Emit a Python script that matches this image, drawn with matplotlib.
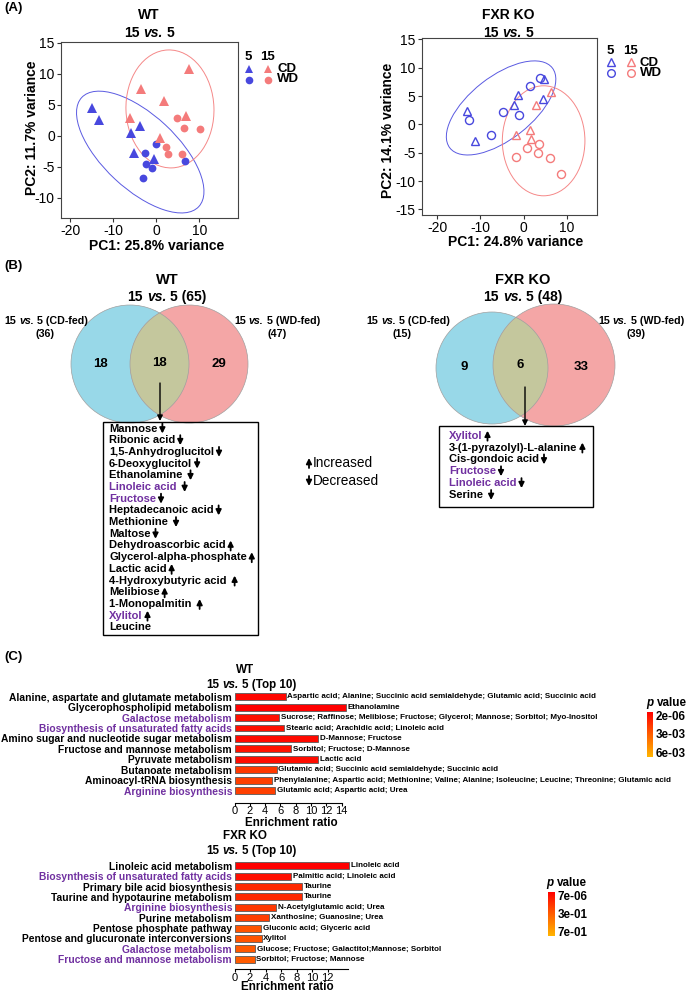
import numpy as np
import matplotlib
matplotlib.use('Agg')
import matplotlib.pyplot as plt
import matplotlib.transforms as mtransforms
from matplotlib.patches import Circle, Ellipse, Rectangle
from matplotlib.colors import LinearSegmentedColormap, Normalize
from matplotlib.cm import ScalarMappable
from matplotlib.text import OffsetFrom

plt.rcParams['font.family'] = ['Liberation Sans', 'DejaVu Sans']
plt.rcParams['axes.unicode_minus'] = False

# ---------------- (A) PCA scores ----------------
wt_5cd_x = [-14.8, -13.2, -3.7, -5.9, -5.1, -0.4]
wt_5cd_y = [4.4, 2.5, 1.5, 0.4, -2.8, -3.7]
wt_5wd_x = [0.0, -2.5, -2.3, -0.9, -3.1, 6.6]
wt_5wd_y = [-1.3, -2.8, -4.6, -5.2, -6.9, -4.1]
wt_15cd_x = [-3.6, 1.9, 7.7, 7.0, -6.0, 0.9]
wt_15cd_y = [7.5, 5.6, 10.8, 3.2, 2.8, -0.4]
wt_15wd_x = [4.8, 6.5, 10.1, 2.3, 2.8, 6.0]
wt_15wd_y = [2.9, 1.2, 1.0, -1.8, -3.0, -3.0]

ko_5cd_x = [-13.0, -11.3, -1.3, -2.2, 4.8, 4.4]
ko_5cd_y = [2.35, -2.9, 5.2, 3.4, 8.0, 4.4]
ko_5wd_x = [-12.7, -7.6, -4.7, -1.1, 1.6, 3.8]
ko_5wd_y = [0.8, -1.9, 2.2, 1.7, 6.8, 8.2]
ko_15cd_x = [2.9, 6.4, -1.8, 1.6, 1.7]
ko_15cd_y = [3.5, 5.8, -1.9, -1.0, -2.5]
ko_15wd_x = [-1.7, 0.7, 3.6, 3.3, 6.1, 8.8]
ko_15wd_y = [-5.8, -4.2, -3.5, -5.1, -5.9, -8.8]

# ellipse: centre (data), semi axes (px), angle (deg)
wt_ell = [(-3.7, -2.66, 80, 37, -43), (3.2, 4.3, 59, 44, 92)]
ko_ell = [(-5.2, 2.9, 65, 31.4, 38), (4.66, -2.9, 55, 41.3, 90)]

wt_pc = ['PC1: 25.8% variance', 'PC2: 11.7% variance']
ko_pc = ['PC1: 24.8% variance', 'PC2: 14.1% variance']

# ---------------- (B) Venn ----------------
wt_venn = [18, 18, 29]
wt_sets = [65, 36, 47]
ko_venn = [9, 6, 33]
ko_sets = [48, 15, 39]

wt_common = ['Mannose', 'Ribonic acid', '1,5-Anhydroglucitol', '6-Deoxyglucitol', 'Ethanolamine ',
             'Linoleic acid ', 'Fructose', 'Heptadecanoic acid', 'Methionine ', 'Maltose',
             'Dehydroascorbic acid', 'Glycerol-alpha-phosphate', 'Lactic acid', '4-Hydroxybutyric acid ',
             'Melibiose', '1-Monopalmitin ', 'Xylitol', 'Leucine']
wt_dir = ['down'] * 10 + ['up'] * 7 + ['']
ko_common = ['Xylitol', '3-(1-pyrazolyl)-L-alanine', 'Cis-gondoic acid', 'Fructose', 'Linoleic acid', 'Serine ']
ko_dir = ['up', 'up', 'down', 'down', 'down', 'down']
purple_mets = ['Linoleic acid', 'Fructose', 'Xylitol']

# ---------------- (C) enrichment ----------------
wt_path = ['Alanine, aspartate and glutamate metabolism', 'Glycerophospholipid metabolism',
           'Galactose metabolism', 'Biosynthesis of unsaturated fatty acids',
           'Amino sugar and nucleotide sugar metabolism', 'Fructose and mannose metabolism',
           'Pyruvate metabolism', 'Butanoate metabolism', 'Aminoacyl-tRNA biosynthesis',
           'Arginine biosynthesis']
wt_ratio = [6.7, 14.5, 5.8, 6.5, 10.9, 7.4, 10.9, 5.5, 4.9, 5.3]
wt_p = [2e-4, 2e-6, 5e-4, 5e-4, 3e-4, 6e-4, 4e-4, 1.8e-3, 2.0e-3, 2.0e-3]
wt_hits = ['Aspartic acid; Alanine; Succinic acid semialdehyde; Glutamic acid; Succinic acid',
           'Ethanolamine',
           'Sucrose; Raffinose; Melibiose; Fructose; Glycerol; Mannose; Sorbitol; Myo-Inositol',
           'Stearic acid; Arachidic acid; Linoleic acid',
           'D-Mannose; Fructose',
           'Sorbitol; Fructose; D-Mannose',
           'Lactic acid',
           'Glutamic acid; Succinic acid semialdehyde; Succinic acid',
           'Phenylalanine; Aspartic acid; Methionine; Valine; Alanine; Isoleucine; Leucine; Threonine; Glutamic acid',
           'Glutamic acid; Aspartic acid; Urea']
wt_purple = ['Galactose metabolism', 'Biosynthesis of unsaturated fatty acids', 'Arginine biosynthesis']
wt_prange = [2e-6, 6e-3]
wt_plabels = ['2e-06', '3e-03', '6e-03']

ko_path = ['Linoleic acid metabolism', 'Biosynthesis of unsaturated fatty acids',
           'Primary bile acid biosynthesis', 'Taurine and hypotaurine metabolism',
           'Arginine biosynthesis', 'Purine metabolism', 'Pentose phosphate pathway',
           'Pentose and glucuronate interconversions', 'Galactose metabolism',
           'Fructose and mannose metabolism']
ko_ratio = [14.8, 7.3, 8.7, 8.7, 5.4, 4.5, 3.4, 3.5, 2.7, 2.6]
ko_p = [7e-6, 0.06, 0.15, 0.15, 0.21, 0.23, 0.31, 0.31, 0.33, 0.34]
ko_hits = ['Linoleic acid', 'Palmitic acid; Linoleic acid', 'Taurine', 'Taurine',
           'N-Acetylglutamic acid; Urea', 'Xanthosine; Guanosine; Urea', 'Gluconic acid; Glyceric acid',
           'Xylitol', 'Glucose; Fructose; Galactitol;Mannose; Sorbitol', 'Sorbitol; Fructose; Mannose']
ko_purple = ['Biosynthesis of unsaturated fatty acids', 'Arginine biosynthesis',
             'Galactose metabolism', 'Fructose and mannose metabolism']
ko_prange = [7e-6, 7e-1]
ko_plabels = ['7e-06', '3e-01', '7e-01']

blue = '#4848DE'
red = '#F47B7B'
purple = '#7030A0'
pcmap = LinearSegmentedColormap.from_list('pv', ['#FF0000', '#FF5E00', '#FFB400'])

W, H = 690, 992
fig = plt.figure(figsize=(6.9, 9.92), dpi=100)
rend = fig.canvas.get_renderer()


def px_axes(x0, y0, x1, y1):
    return fig.add_axes([x0 / W, 1 - y1 / H, (x1 - x0) / W, (y1 - y0) / H])


ov = fig.add_axes([0, 0, 1, 1])
ov.set_xlim(0, W)
ov.set_ylim(H, 0)
ov.axis('off')


def put(x, y, s, size=8, weight='bold', **kw):
    kw.setdefault('ha', 'center')
    kw.setdefault('va', 'center')
    return ov.text(x, y, s, fontsize=size, fontweight=weight, **kw)


def rich(x, y, parts, size):
    # pieces of bold text, some italic, centred as one line
    arts, widths = [], []
    for s, it in parts:
        t = ov.text(0, y, s, fontsize=size, fontweight='bold', fontstyle='italic' if it else 'normal',
                    ha='left', va='center')
        arts.append(t)
        widths.append(t.get_window_extent(rend).width)
    sp = 0.278 * size * 100 / 72
    x0 = x - (sum(widths) + sp * (len(parts) - 1)) / 2
    for t, w in zip(arts, widths):
        t.set_x(x0)
        x0 += w + sp


def vs(x, y, size, tail=''):
    rich(x, y, [('15', False), ('vs.', True), ('5' + tail, False)], size)


arrow_style = dict(arrowstyle='-|>', color='black', lw=1.3, mutation_scale=8, shrinkA=0, shrinkB=0)


def small_arrow(anchor, d, dx=3.6):
    # thin arrow with filled head, after a text artist or at a point (px)
    h = 3.6 if d == 'up' else -3.6
    if isinstance(anchor, tuple):
        ov.annotate('', xy=(anchor[0], anchor[1] - h * 1.39), xytext=(anchor[0], anchor[1] + h * 1.39),
                    arrowprops=arrow_style)
    else:
        ref = OffsetFrom(anchor, (1, 0.5), unit='points')
        ov.annotate('', xy=(dx, h), xycoords=ref, xytext=(dx, -h), textcoords=ref,
                    arrowprops=arrow_style)


# panel letters
put(4, 8, '(A)', 9.5, ha='left')
put(4, 266, '(B)', 9.5, ha='left')
put(4, 657, '(C)', 9.5, ha='left')


def pca_panel(box, xlim, ylim, yticks, groups, ells, filled, pc, name, tx, lx, ly):
    ax = px_axes(*box)
    cols = [blue, blue, red, red]
    mks = ['^', 'o', '^', 'o']
    for (gx, gy), c, m in zip(groups, cols, mks):
        if filled:
            ax.plot(gx, gy, m, ls='none', color=c, ms=6.5 if m == '^' else 5.6, mew=0)
        else:
            ax.plot(gx, gy, m, ls='none', mfc='none', mec=c, ms=5.8, mew=1.0)
    for (cx, cy, a, b, ang), c in zip(ells, [blue, red]):
        tr = fig.dpi_scale_trans + mtransforms.ScaledTranslation(cx, cy, ax.transData)
        ax.add_patch(Ellipse((0, 0), 2 * a / 100, 2 * b / 100, angle=ang, transform=tr,
                             fill=False, ec=c, lw=0.7, alpha=0.9))
    ax.set_xlim(xlim)
    ax.set_ylim(ylim)
    ax.set_xticks([-20, -10, 0, 10])
    ax.set_yticks(yticks)
    ax.tick_params(direction='out', length=3, width=0.8, labelsize=10, pad=1.5, color='#333333')
    for s in ax.spines.values():
        s.set_linewidth(0.8)
        s.set_color('#444444')
    put(tx, 15, name, 10)
    vs(tx, 33, 10)
    put(lx[0], lx[1], pc[0], 10)
    put(ly[0], ly[1], pc[1], 10, rotation=90)
    return ax


pca_panel((61, 42, 238, 218), (-22.1, 19), (-13.3, 15.1), [15, 10, 5, 0, -5, -10],
          [(wt_5cd_x, wt_5cd_y), (wt_5wd_x, wt_5wd_y), (wt_15cd_x, wt_15cd_y), (wt_15wd_x, wt_15wd_y)],
          wt_ell, True, wt_pc, 'WT', 149, (157, 246), (32, 128))
pca_panel((421.7, 37.7, 597.3, 215), (-23.6, 17.1), (-16.0, 15.3), [15, 10, 5, 0, -5, -10, -15],
          [(ko_5cd_x, ko_5cd_y), (ko_5wd_x, ko_5wd_y), (ko_15cd_x, ko_15cd_y), (ko_15wd_x, ko_15wd_y)],
          ko_ell, False, ko_pc, 'FXR KO', 508, (516, 242), (388, 130))

# legends of (A)
for (x5, x15, y0, fill) in [(249, 267.5, 57, True), (611, 630.5, 51, False)]:
    put(x5 - 1, y0, '5', 9.5)
    put(x15, y0, '15', 9.5)
    for c, xx in [(blue, x5), (red, x15)]:
        if fill:
            ov.plot(xx, y0 + 12, '^', color=c, ms=5.5, mew=0)
            ov.plot(xx, y0 + 23, 'o', color=c, ms=5.5, mew=0)
        else:
            ov.plot(xx, y0 + 11, '^', mfc='none', mec=c, ms=5.5, mew=1)
            ov.plot(xx, y0 + 22, 'o', mfc='none', mec=c, ms=5.5, mew=1)
    put(x15 + 9.5, y0 + 11.5, 'CD', 9.5, ha='left')
    put(x15 + 9.5, y0 + 22.5, 'WD', 9.5, ha='left')


# ---------------- (B) ----------------
def venn(cb, rb, cr, rr, counts, sets, name, tx, lab_l, lab_r, arrow):
    c1 = Circle(cb, rb, fc='#98D8E8', ec='none')
    c2 = Circle(cr, rr, fc='#F4A6A6', ec='none')
    ov.add_patch(c1)
    ov.add_patch(c2)
    mid = Circle(cb, rb, fc='#C4C79D', ec='none')
    ov.add_patch(mid)
    mid.set_clip_path(c2)
    ov.add_patch(Circle(cb, rb, fc='none', ec='#A0A0A0', lw=0.5))
    ov.add_patch(Circle(cr, rr, fc='none', ec='#A0A0A0', lw=0.5))
    yc = (cb[1] + cr[1]) / 2
    put((cb[0] - rb + cr[0] - rr) / 2, yc, str(counts[0]), 9.5)
    put((cr[0] - rr + cb[0] + rb) / 2, yc - 1, str(counts[1]), 9.5)
    put((cb[0] + rb + cr[0] + rr) / 2, yc, str(counts[2]), 9.5)
    put(tx, 280, name, 10.5)
    vs(tx, 297, 10, ' (%d)' % sets[0])
    vs(lab_l[0], 321, 7.7, ' (CD-fed)')
    put(lab_l[1], 334, '(%d)' % sets[1], 7.7)
    vs(lab_r[0], 321, 7.7, ' (WD-fed)')
    put(lab_r[1], 334, '(%d)' % sets[2], 7.7)
    ov.annotate('', xy=(arrow[0], arrow[2]), xytext=(arrow[0], arrow[1]),
                arrowprops=dict(arrowstyle='-|>', color='black', lw=1.0, mutation_scale=8,
                                shrinkA=0, shrinkB=0))


venn((130, 364), 59, (189, 364), 59, wt_venn, wt_sets, 'WT', 167, (46, 45), (277, 277), (160, 383, 421))
venn((492, 368), 56, (554, 365), 61, ko_venn, ko_sets, 'FXR KO', 523, (408, 402), (641, 636), (525, 387, 426))


def met_list(box, x, y0, dy, names, dirs):
    ov.add_patch(Rectangle((box[0], box[1]), box[2] - box[0], box[3] - box[1],
                           fill=False, ec='black', lw=1.0))
    for i, (n, d) in enumerate(zip(names, dirs)):
        col = purple if n.strip() in purple_mets else 'black'
        t = put(x, y0 + i * dy, n, 8, ha='left', color=col)
        if d:
            small_arrow(t, d)


met_list((102.7, 421.5, 258, 634.5), 109, 428.5, 11.7, wt_common, wt_dir)
met_list((439, 426, 593, 507), 449, 435.7, 11.86, ko_common, ko_dir)
small_arrow((309, 463), 'up')
small_arrow((309, 481), 'down')
put(313, 463, 'Increased', 9.8, weight='normal', ha='left')
put(313, 481, 'Decreased', 9.8, weight='normal', ha='left')


# ---------------- (C) ----------------
def bar_panel(box, names, ratios, pvals, hits, hl, prange, plabels, xticks, spine_end, outward,
              name, ty, xl, cbox, ptxt):
    ax = px_axes(*box)
    norm = Normalize(prange[0], prange[1])
    pos = np.arange(len(names))
    ax.barh(pos, ratios, height=0.66, color=pcmap(norm(np.array(pvals))),
            edgecolor='#5a5a5a', linewidth=0.6)
    for p, r, h in zip(pos, ratios, hits):
        ax.annotate(h, (r, p), xytext=(1.2, 0), textcoords='offset points', ha='left', va='center',
                    fontsize=5.8, fontweight='bold', annotation_clip=False)
    ax.set_xlim(0, 15)
    ax.set_ylim(len(names) - 0.4, -0.6)
    ax.set_yticks(pos, names)
    for lbl in ax.get_yticklabels():
        lbl.set_fontweight('bold')
        lbl.set_fontsize(7.4)
        if lbl.get_text() in hl:
            lbl.set_color(purple)
    ax.tick_params(axis='y', length=0, pad=1.8)
    ax.set_xticks(xticks)
    ax.tick_params(axis='x', length=2, width=0.8, labelsize=8, pad=0.6)
    for lbl in ax.get_xticklabels():
        lbl.set_fontweight('bold')
    for s in ['top', 'right', 'left']:
        ax.spines[s].set_visible(False)
    ax.spines['bottom'].set_position(('outward', outward))
    ax.spines['bottom'].set_bounds(0, spine_end)
    ax.spines['bottom'].set_linewidth(0.8)
    ax.patch.set_alpha(0)
    put(245, ty, name, 8.4)
    rich(251, ty + 15, [('15', False), ('vs.', True), ('5 (Top 10)', False)], 8.4)
    put(xl[0], xl[1], 'Enrichment ratio', 8.4)
    cax = px_axes(*cbox)
    cb = fig.colorbar(ScalarMappable(norm, pcmap), cax=cax)
    lo, hi = prange
    cb.set_ticks([lo + f * (hi - lo) for f in (0.08, 0.49, 0.9)], labels=plabels)
    cax.invert_yaxis()
    cb.outline.set_visible(False)
    cax.tick_params(length=0, labelsize=8.4, pad=2)
    for lbl in cax.get_yticklabels():
        lbl.set_fontweight('bold')
    rich(ptxt[0], ptxt[1], [('p', True), ('value', False)], 8.4)


bar_panel((234.5, 690.4, 349.4, 796.9), wt_path, wt_ratio, wt_p, wt_hits, wt_purple, wt_prange, wt_plabels,
          np.arange(0, 15, 2), 14, 4.2, 'WT', 670, (291, 823),
          (647.3, 711.7, 653.3, 756.7), (666.7, 703))
bar_panel((234.5, 859.5, 350.8, 965.5), ko_path, ko_ratio, ko_p, ko_hits, ko_purple, ko_prange, ko_plabels,
          np.arange(0, 13, 2), 14.6, 2.5, 'FXR KO', 836, (287, 987),
          (548.3, 891.7, 555, 936), (566.7, 883))

fig.savefig('out.png', dpi=100)
